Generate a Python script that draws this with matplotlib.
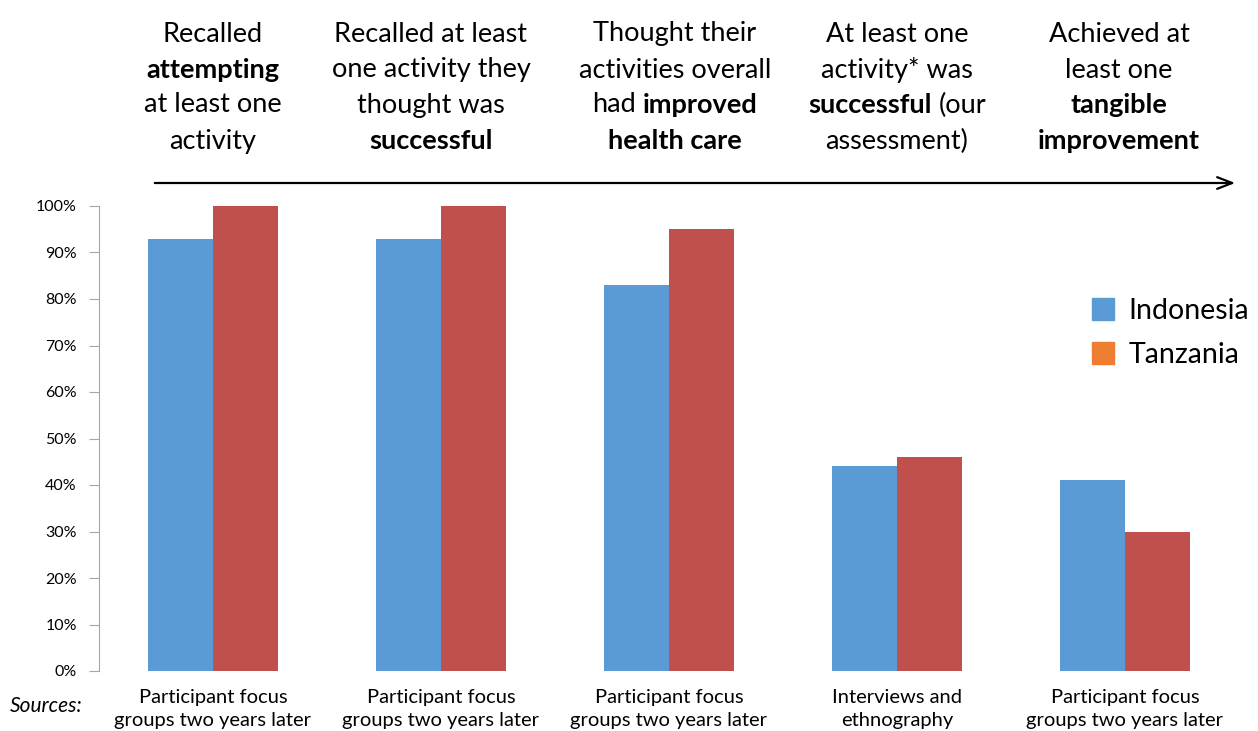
import matplotlib
matplotlib.use("Agg")
import matplotlib.pyplot as plt
from matplotlib.patches import Patch
from matplotlib.ticker import PercentFormatter
import numpy as np

plt.rcParams['font.family'] = ['Lato', 'DejaVu Sans']

# datos
indonesia = [93, 93, 83, 44, 41]
tanzania = [100, 100, 95, 46, 30]
fuentes = ["Participant focus\ngroups two years later",
           "Participant focus\ngroups two years later",
           "Participant focus\ngroups two years later",
           "Interviews and\nethnography",
           "Participant focus\ngroups two years later"]
# cada linea: lista de (texto, negrita)
encabezados = [
    [[("Recalled", 0)], [("attempting", 1)], [("at least one", 0)], [("activity", 0)]],
    [[("Recalled at least", 0)], [("one activity they", 0)], [("thought was", 0)], [("successful", 1)]],
    [[("Thought their", 0)], [("activities overall", 0)], [("had", 0), ("improved", 1)], [("health care", 1)]],
    [[("At least one", 0)], [("activity* was", 0)], [("successful", 1), ("(our", 0)], [("assessment)", 0)]],
    [[("Achieved at", 0)], [("least one", 0)], [("tangible", 1)], [("improvement", 1)]],
]
centros_enc = [213, 431, 675, 897, 1119]

azul = "#5B9BD5"
rojo = "#C0504D"
naranja = "#ED7D31"

W, H = 1258, 731
fig = plt.figure(figsize=(W / 100, H / 100), dpi=100)
ax = fig.add_axes([99 / W, 1 - 671 / H, 1140 / W, 465 / H])

x = np.arange(len(indonesia))
ancho = 0.285
ax.bar(x - ancho / 2, indonesia, ancho, color=azul)
ax.bar(x + ancho / 2, tanzania, ancho, color=rojo)

ax.set_xlim(-0.5, len(indonesia) - 0.5)
ax.set_ylim(0, 100)
ax.set_yticks(range(0, 101, 10))
ax.yaxis.set_major_formatter(PercentFormatter(decimals=0))
ax.tick_params(axis='y', length=7, color="#A6A6A6", labelsize=11.5, pad=9)
ax.spines['left'].set_color("#A6A6A6")
for s in ['top', 'right', 'bottom']:
    ax.spines[s].set_visible(False)
ax.set_xticks([])

# fuentes abajo
for i, f in enumerate(fuentes):
    ax.text(i, -3.8, f, ha='center', va='top', fontsize=14.5, linespacing=1.45,
            transform=ax.transData)
fig.text(10 / W, 1 - 706 / H, "Sources:", fontsize=15, style='italic', va='center')

# leyenda
handles = [Patch(color=azul, label="Indonesia"), Patch(color=naranja, label="Tanzania")]
fig.legend(handles=handles, loc='center left', bbox_to_anchor=(1066 / W, 1 - 333 / H),
           frameon=False, fontsize=20.5, handlelength=0.8, handleheight=0.8,
           handletextpad=0.5, labelspacing=0.65)

# flecha
fig.patches.append(matplotlib.patches.FancyArrowPatch(
    (152 / W, 1 - 183 / H), (1238 / W, 1 - 183 / H), transform=fig.transFigure,
    arrowstyle='->,head_length=0.9,head_width=0.35', color='black', lw=1.6,
    mutation_scale=12))

# encabezados con partes en negrita
fig.canvas.draw()
r = fig.canvas.get_renderer()
tam = 19.5


def ancho_txt(t, bold):
    tt = fig.text(0, 0, t, fontsize=tam, fontweight='bold' if bold else 'normal')
    w = tt.get_window_extent(r).width
    tt.remove()
    return w


esp = ancho_txt("x x", 0) - ancho_txt("xx", 0)
ys = [34, 70, 105, 141]
for cx, lineas in zip(centros_enc, encabezados):
    for yy, partes in zip(ys, lineas):
        anchos = [ancho_txt(t, b) for t, b in partes]
        total = sum(anchos) + esp * (len(partes) - 1)
        x0 = cx - total / 2
        for (t, b), w in zip(partes, anchos):
            fig.text(x0 / W, 1 - yy / H, t, fontsize=tam,
                     fontweight='bold' if b else 'normal', va='center', ha='left')
            x0 += w + esp

fig.savefig("out.png", dpi=100)
